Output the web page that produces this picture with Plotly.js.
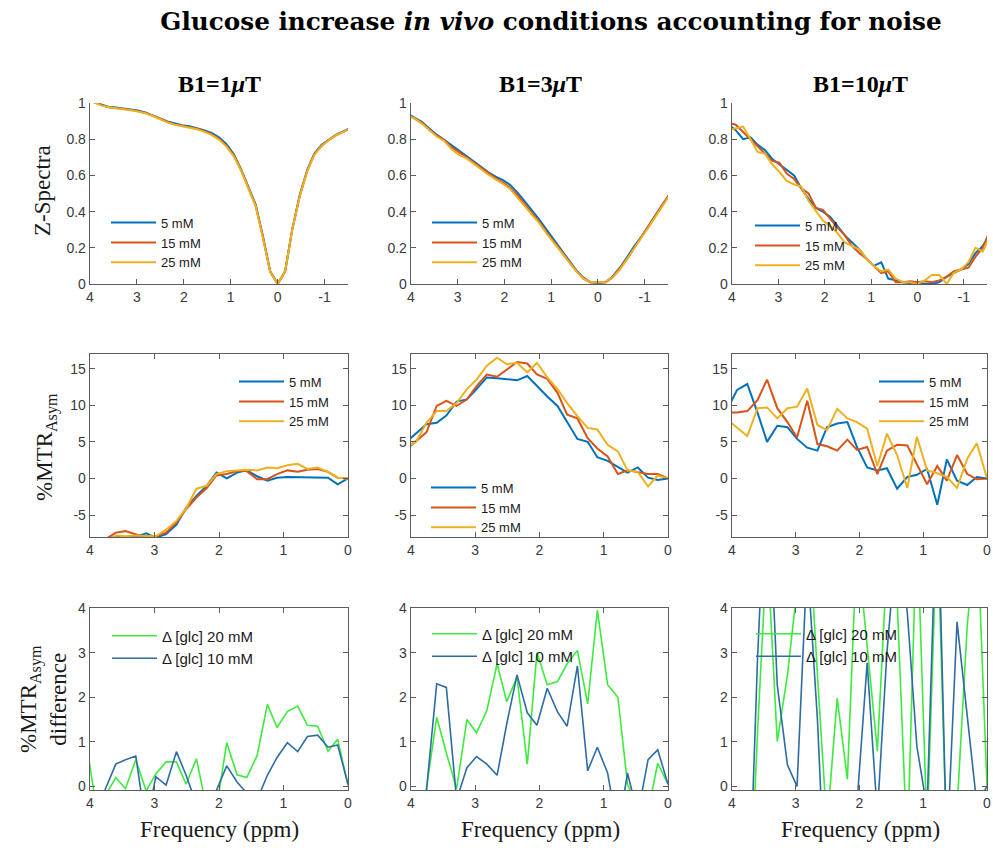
<!DOCTYPE html>
<html>
<head>
<meta charset="utf-8">
<script src="https://cdn.plot.ly/plotly-3.0.1.min.js"></script>
<style>
  html, body { margin: 0; padding: 0; background: #ffffff; }
  #chart { width: 993px; height: 848px; }
</style>
</head>
<body>
<div id="chart"></div>
<script>
// ---- Frequency offsets (ppm) ----
const ppmZ = [4.07, 3.92, 3.76, 3.60, 3.45, 3.29, 3.13, 2.98, 2.82, 2.66, 2.51, 2.35, 2.19, 2.04, 1.88, 1.72, 1.57, 1.41, 1.25, 1.10, 0.94, 0.78, 0.63, 0.47, 0.31, 0.16, 0.00, -0.16, -0.31, -0.47, -0.63, -0.78, -0.94, -1.10, -1.25, -1.41, -1.57];
const ppmA = [4.07, 3.92, 3.76, 3.60, 3.45, 3.29, 3.13, 2.98, 2.82, 2.66, 2.51, 2.35, 2.19, 2.04, 1.88, 1.72, 1.57, 1.41, 1.25, 1.10, 0.94, 0.78, 0.63, 0.47, 0.31, 0.16, 0.00];

// ---- Z-spectra, B1 = 1 uT ----
const zB1_5mM  = [null, 1.005, 0.990, 0.978, 0.975, 0.970, 0.965, 0.958, 0.948, 0.933, 0.915, 0.898, 0.885, 0.877, 0.872, 0.862, 0.850, 0.835, 0.810, 0.775, 0.720, 0.635, 0.540, 0.440, 0.260, 0.070, 0.000, 0.070, 0.300, 0.490, 0.630, 0.720, 0.770, 0.800, 0.825, 0.845, 0.865];
const zB1_15mM = [null, 1.005, 0.988, 0.977, 0.973, 0.968, 0.962, 0.955, 0.945, 0.930, 0.912, 0.895, 0.882, 0.874, 0.869, 0.858, 0.845, 0.828, 0.802, 0.766, 0.712, 0.630, 0.535, 0.435, 0.255, 0.070, 0.000, 0.070, 0.300, 0.485, 0.625, 0.715, 0.765, 0.798, 0.823, 0.843, 0.862];
const zB1_25mM = [null, 1.005, 0.987, 0.976, 0.972, 0.967, 0.960, 0.953, 0.943, 0.928, 0.910, 0.893, 0.880, 0.872, 0.866, 0.855, 0.842, 0.824, 0.798, 0.762, 0.708, 0.627, 0.532, 0.432, 0.250, 0.068, 0.000, 0.070, 0.298, 0.483, 0.622, 0.713, 0.763, 0.797, 0.822, 0.842, 0.861];

// ---- Z-spectra, B1 = 3 uT ----
const zB3_5mM  = [0.940, 0.920, 0.895, 0.857, 0.825, 0.797, 0.765, 0.738, 0.708, 0.678, 0.648, 0.618, 0.593, 0.575, 0.548, 0.505, 0.458, 0.408, 0.355, 0.300, 0.245, 0.190, 0.135, 0.078, 0.035, 0.010, 0.005, 0.010, 0.040, 0.090, 0.150, 0.210, 0.265, 0.330, 0.385, 0.450, 0.510];
const zB3_15mM = [0.935, 0.915, 0.890, 0.850, 0.820, 0.795, 0.755, 0.730, 0.700, 0.670, 0.640, 0.610, 0.585, 0.562, 0.532, 0.490, 0.442, 0.390, 0.340, 0.285, 0.235, 0.180, 0.128, 0.075, 0.030, 0.010, 0.010, 0.010, 0.035, 0.085, 0.140, 0.200, 0.260, 0.325, 0.385, 0.450, 0.510];
const zB3_25mM = [0.930, 0.915, 0.885, 0.848, 0.815, 0.790, 0.745, 0.715, 0.695, 0.665, 0.635, 0.605, 0.578, 0.555, 0.525, 0.480, 0.432, 0.382, 0.335, 0.280, 0.230, 0.175, 0.125, 0.072, 0.030, 0.012, 0.008, 0.012, 0.035, 0.080, 0.140, 0.200, 0.260, 0.320, 0.380, 0.445, 0.505];

// ---- Z-spectra, B1 = 10 uT ----
const zB10_5mM  = [0.88, 0.85, 0.80, 0.81, 0.77, 0.74, 0.69, 0.66, 0.63, 0.60, 0.53, 0.47, 0.42, 0.40, 0.37, 0.32, 0.27, 0.23, 0.19, 0.14, 0.10, 0.12, 0.03, 0.02, 0.01, 0.005, 0.005, 0.00, 0.00, 0.01, 0.04, 0.06, 0.08, 0.11, 0.17, 0.21, 0.28];
const zB10_15mM = [0.89, 0.88, 0.84, 0.80, 0.76, 0.72, 0.68, 0.67, 0.61, 0.58, 0.53, 0.50, 0.42, 0.41, 0.36, 0.31, 0.27, 0.21, 0.17, 0.14, 0.10, 0.06, 0.07, 0.01, 0.01, 0.015, 0.01, 0.015, 0.01, 0.02, 0.04, 0.07, 0.08, 0.09, 0.15, 0.20, 0.30];
const zB10_25mM = [0.85, 0.86, 0.87, 0.80, 0.73, 0.72, 0.66, 0.62, 0.57, 0.55, 0.54, 0.46, 0.40, 0.35, 0.32, 0.28, 0.23, 0.21, 0.19, 0.14, 0.10, 0.07, 0.08, 0.03, 0.01, 0.01, 0.00, 0.02, 0.05, 0.05, 0.00, 0.06, 0.08, 0.12, 0.20, 0.18, 0.27];

// ---- %MTRasym ----
const aB1_5mM   = [-9.5, -9.0, -8.5, -7.9, -8.0, -8.0, -7.5, -8.1, -7.6, -6.3, -4.0, -2.4, -1.0, 0.8, 0.0, 0.8, 1.1, 0.3, -0.3, 0.1, 0.2, 0.2, 0.1, 0.1, 0.1, -0.8, 0.0];
const aB1_15mM  = [-10.0, -9.5, -8.3, -7.4, -7.2, -7.7, -8.1, -7.9, -7.4, -6.0, -4.2, -2.6, -1.3, 0.4, 0.6, 1.0, 1.0, -0.1, -0.1, 0.6, 1.1, 0.9, 1.2, 1.3, 0.9, 0.1, 0.0];
const aB1_25mM  = [-9.5, -9.0, -8.6, -7.8, -7.9, -7.8, -7.8, -7.9, -7.0, -5.8, -4.1, -1.4, -1.0, 0.6, 1.0, 1.1, 1.2, 1.1, 1.5, 1.4, 1.8, 2.0, 1.3, 1.5, 0.9, 0.1, 0.0];

const aB3_5mM   = [5.0, 6.2, 7.4, 7.6, 8.6, 10.5, 10.8, 12.2, 13.8, 13.7, 13.6, 13.4, 14.0, 12.6, 11.2, 9.9, 7.8, 5.4, 5.0, 2.9, 2.4, 1.6, 0.8, 1.5, 0.1, -0.2, 0.0];
const aB3_15mM  = [4.0, 5.1, 6.3, 9.9, 10.6, 9.9, 10.8, 12.6, 14.2, 13.9, 14.9, 15.9, 15.7, 14.2, 13.6, 11.7, 8.7, 8.2, 5.5, 4.1, 3.0, 0.6, 1.1, 0.8, 0.6, 0.6, 0.0];
const aB3_25mM  = [4.3, 5.0, 7.6, 9.2, 9.2, 10.3, 12.2, 13.5, 15.4, 16.5, 15.6, 15.8, 14.5, 15.8, 13.8, 12.2, 10.3, 8.5, 6.9, 6.7, 4.6, 3.7, 1.1, 0.9, -1.1, 0.4, 0.0];

const aB10_5mM  = [9.5, 12.1, 12.9, 9.0, 5.0, 7.2, 7.0, 5.4, 4.2, 3.8, 7.0, 7.5, 7.7, 4.3, 1.5, 1.1, 1.4, -1.4, 0.2, 0.5, 1.3, -3.6, 2.6, -0.3, -0.9, 0.2, 0.0];
const aB10_15mM = [9.0, 9.0, 9.2, 10.7, 13.5, 9.6, 7.7, 5.6, 10.6, 4.7, 4.4, 3.8, 5.3, 3.9, 4.3, 0.6, 3.8, 4.6, 4.5, 2.0, -0.8, 1.7, -0.3, 3.2, 0.6, -0.1, 0.0];
const aB10_25mM = [8.0, 6.9, 5.8, 9.6, 9.7, 8.2, 9.6, 9.8, 12.3, 7.3, 6.6, 9.5, 8.2, 7.7, 6.8, 1.7, 6.1, 3.2, -1.3, 5.7, 1.1, 0.7, 0.2, -1.3, 2.7, 4.8, 0.0];

// ---- %MTRasym difference ----
const dB1_20mM  = [1.1, -0.3, -0.2, 0.2, -0.05, 0.6, -0.1, 0.28, 0.55, 0.55, 0.05, 0.62, -0.5, -0.5, 0.98, 0.26, 0.2, 0.69, 1.84, 1.32, 1.68, 1.8, 1.37, 1.35, 0.79, 1.06, 0.02];
const dB1_10mM  = [-1.0, -0.8, -0.05, 0.5, 0.6, 0.68, -0.9, 0.22, 0.03, 0.78, 0.25, -0.4, -0.6, -0.1, 0.46, 0.1, -0.15, -0.3, 0.25, 0.65, 0.98, 0.78, 1.12, 1.15, 0.88, 0.93, 0.05];

const dB3_20mM  = [-1.0, -0.8, -0.05, 1.55, 0.75, -0.05, 1.5, 1.2, 1.7, 2.75, 1.9, 2.45, 0.5, 3.0, 2.28, 2.35, 2.75, 3.05, 1.85, 3.95, 2.28, 2.0, 0.05, -0.5, -0.55, 0.52, 0.05];
const dB3_10mM  = [-1.0, -0.6, -0.1, 2.3, 2.22, -0.3, 0.42, 0.67, 0.5, 0.25, 1.4, 2.5, 1.65, 1.37, 2.2, 1.67, 1.35, 2.7, 0.35, 0.88, 0.3, -1.0, 0.3, -0.63, 0.6, 0.82, 0.05];

const dB10_20mM = [-1.0, -2.0, -4.0, 1.2, 5.4, 1.01, 2.5, 4.1, 6.5, 2.5, -0.9, 1.98, 0.16, 5.5, 3.1, 0.79, 5.0, 4.2, -1.5, 6.0, -1.0, 6.0, -1.5, -0.5, 3.6, 6.0, 0.0];
const dB10_10mM = [-1.0, -2.0, -3.9, 2.85, 7.6, 2.27, 0.48, 0.0, 5.1, 1.5, -3.2, -2.5, -3.0, -0.4, 2.77, -0.64, 3.0, 5.7, 3.9, 0.9, -0.5, 7.0, -1.5, 3.69, 1.58, -0.4, 0.0];

// ---- Labels ----
const concLabels = ['5 mM', '15 mM', '25 mM'];
const diffLabels = ['\u0394 [glc] 20 mM', '\u0394 [glc] 10 mM'];
const colTitles = ['B1=1<i>\u03bc</i>T', 'B1=3<i>\u03bc</i>T', 'B1=10<i>\u03bc</i>T'];

// ---- Tick labels ----
const zTickVals = [4, 3, 2, 1, 0, -1];
const zTickText = ['4', '3', '2', '1', '0', '-1'];
const zYTickVals = [0, 0.2, 0.4, 0.6, 0.8, 1];
const zYTickText = ['0', '0.2', '0.4', '0.6', '0.8', '1'];
const aTickVals = [4, 3, 2, 1, 0];
const aTickText = ['4', '3', '2', '1', '0'];
const aYTickVals = [-5, 0, 5, 10, 15];
const aYTickText = ['-5', '0', '5', '10', '15'];
const dYTickVals = [0, 1, 2, 3, 4];
const dYTickText = ['0', '1', '2', '3', '4'];

// ---- Styling ----
const W = 993, H = 848;
const concColors = ['#0072BD', '#D95319', '#EDB120'];
const diffColors = ['#3DEB3D', '#2E6CA4'];
const axisColor = '#5c5c5c';
const tickFont = { family: 'Liberation Sans, Arial, sans-serif', size: 14, color: '#3a3a3a' };
const serif = 'Liberation Serif, Times New Roman, serif';
const headSerif = 'DejaVu Serif, Georgia, serif';

const px2x = p => p / W;
const px2y = p => 1 - p / H;

// Plot-area boxes in pixels: columns [left,right], rows [top,bottom]
const cols = [[90, 348], [411, 668], [732, 987]];
const rows = [[103, 284], [354, 537], [608, 790]];

const traces = [];
const layout = {
  width: W, height: H,
  margin: { l: 0, r: 0, t: 0, b: 0, pad: 0 },
  paper_bgcolor: '#ffffff', plot_bgcolor: '#ffffff',
  showlegend: true,
  title: {
    text: '<b>Glucose increase <i>in vivo</i> conditions accounting for noise</b>',
    font: { family: headSerif, size: 24.7, color: '#000000' },
    x: px2x(551), xanchor: 'center', xref: 'paper',
    y: px2y(21), yanchor: 'middle', yref: 'paper'
  },
  annotations: [],
  hovermode: false
};

function axisId(r, c) { return (r * 3 + c + 1); }

function addSeries(r, c, x, ys, names, colors, width) {
  const k = axisId(r, c);
  const legendId = k === 1 ? 'legend' : 'legend' + k;
  ys.forEach((y, i) => {
    traces.push({
      type: 'scatter', mode: 'lines', x: x, y: y, name: names[i],
      xaxis: 'x' + k, yaxis: 'y' + k, legend: legendId,
      line: { color: colors[i], width: width },
      connectgaps: false, cliponaxis: true
    });
  });
}

function setAxes(r, c, xr, xtv, xtt, yr, ytv, ytt, boxed) {
  const k = axisId(r, c);
  const common = {
    showgrid: false, zeroline: false, showline: true,
    linecolor: axisColor, linewidth: 1.3,
    ticks: 'inside', ticklen: 5, tickwidth: 1, tickcolor: axisColor,
    tickfont: tickFont, tickmode: 'array', ticklabeloverflow: 'allow',
    mirror: boxed ? 'ticks' : false, fixedrange: true
  };
  layout['xaxis' + k] = Object.assign({}, common, {
    domain: [px2x(cols[c][0]), px2x(cols[c][1])],
    anchor: 'y' + k, range: xr, tickvals: xtv, ticktext: xtt
  });
  layout['yaxis' + k] = Object.assign({}, common, {
    domain: [px2y(rows[r][1]), px2y(rows[r][0])],
    anchor: 'x' + k, range: yr, tickvals: ytv, ticktext: ytt
  });
}

// Legend placed by the x of its line start and the y of its vertical centre
function setLegend(r, c, lineStartPx, centerPx, nItems, size) {
  const k = axisId(r, c);
  const key = k === 1 ? 'legend' : 'legend' + k;
  const rowH = size * 1.3 + 3.5;
  const firstRow = centerPx - (nItems - 1) / 2 * rowH;
  layout[key] = {
    x: px2x(lineStartPx - 6), xanchor: 'left', xref: 'paper',
    y: px2y(firstRow - (size + 1)), yanchor: 'top', yref: 'paper',
    bgcolor: 'rgba(0,0,0,0)', borderwidth: 0,
    font: { family: 'Liberation Sans, Arial, sans-serif', size: size, color: '#1a1a1a' },
    itemwidth: 45, tracegroupgap: 0, itemclick: false, itemdoubleclick: false
  };
}

const zSets = [
  [zB1_5mM, zB1_15mM, zB1_25mM],
  [zB3_5mM, zB3_15mM, zB3_25mM],
  [zB10_5mM, zB10_15mM, zB10_25mM]
];
const aSets = [
  [aB1_5mM, aB1_15mM, aB1_25mM],
  [aB3_5mM, aB3_15mM, aB3_25mM],
  [aB10_5mM, aB10_15mM, aB10_25mM]
];
const dSets = [
  [dB1_20mM, dB1_10mM],
  [dB3_20mM, dB3_10mM],
  [dB10_20mM, dB10_10mM]
];

for (let c = 0; c < 3; c++) {
  addSeries(0, c, ppmZ, zSets[c], concLabels, concColors, 2);
  setAxes(0, c, [4, -1.5], zTickVals, zTickText, [0, 1], zYTickVals, zYTickText, false);

  addSeries(1, c, ppmA, aSets[c], concLabels, concColors, 2);
  setAxes(1, c, [4, 0], aTickVals, aTickText, [-8, 17], aYTickVals, aYTickText, true);

  addSeries(2, c, ppmA, dSets[c], diffLabels, diffColors, 1.6);
  setAxes(2, c, [4, 0], aTickVals, aTickText, [-0.08, 4], dYTickVals, dYTickText, true);
}

// Legends: row, col, line start x, centre y, entries, font size
setLegend(0, 0, 112, 242, 3, 13);
setLegend(0, 1, 433, 242, 3, 13);
setLegend(0, 2, 756, 245, 3, 13);
setLegend(1, 0, 240, 401, 3, 13);
setLegend(1, 1, 432, 507, 3, 13);
setLegend(1, 2, 880, 401, 3, 13);
setLegend(2, 0, 113, 647, 2, 15);
setLegend(2, 1, 433, 645, 2, 15);
setLegend(2, 2, 757, 645, 2, 15);

// Column titles and x-axis labels
const colCenters = [219, 540, 860];
colCenters.forEach((cx, i) => {
  layout.annotations.push({
    text: '<b>' + colTitles[i] + '</b>', xref: 'paper', yref: 'paper',
    x: px2x(cx), y: px2y(84), xanchor: 'center', yanchor: 'middle',
    showarrow: false, font: { family: serif, size: 24, color: '#000000' }
  });
  layout.annotations.push({
    text: 'Frequency (ppm)', xref: 'paper', yref: 'paper',
    x: px2x(cx), y: px2y(829), xanchor: 'center', yanchor: 'middle',
    showarrow: false, font: { family: serif, size: 23, color: '#1a1a1a' }
  });
});

// Row labels
const rowLabels = [
  { text: 'Z-Spectra', x: 42, y: 191 },
  { text: '%MTR<sub>Asym</sub>', x: 46, y: 447 },
  { text: '%MTR<sub>Asym</sub><br>difference', x: 43, y: 699 }
];
rowLabels.forEach(l => {
  layout.annotations.push({
    text: l.text, xref: 'paper', yref: 'paper',
    x: px2x(l.x), y: px2y(l.y), xanchor: 'center', yanchor: 'middle',
    textangle: -90, showarrow: false,
    font: { family: serif, size: 23, color: '#1a1a1a' }
  });
});

Plotly.newPlot('chart', traces, layout, { staticPlot: true, displayModeBar: false });
</script>
</body>
</html>
